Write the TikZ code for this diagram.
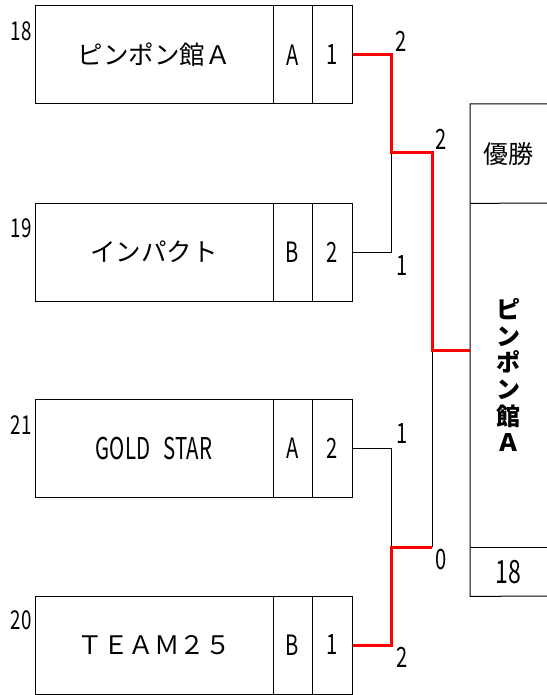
\documentclass[tikz,border=0pt]{standalone}
\usepackage{fontspec}
\setmainfont{Noto Sans CJK JP}
\newfontfamily\hw{Noto Sans CJK JP}[FakeStretch=0.72]
\newfontfamily\hwn{Noto Sans CJK JP}[FakeStretch=0.68]
\begin{document}
\begin{tikzpicture}[x=1pt,y=-1pt,
  cellbox/.style={draw=black,line width=1pt,inner sep=0pt,minimum height=98pt},
  namecell/.style={cellbox,minimum width=238pt,font=\fontsize{25.5}{25.5}\selectfont},
  grpcell/.style={cellbox,minimum width=39pt,font=\hw\fontsize{28}{28}\selectfont},
  scorecell/.style={cellbox,minimum width=40pt,font=\hw\fontsize{28}{28}\selectfont},
  seed/.style={font=\hw\fontsize{26}{26}\selectfont,inner sep=0pt},
  score/.style={font=\hw\fontsize{28}{28}\selectfont,inner sep=0pt},
  win/.style={draw=red,line width=3pt},
  lose/.style={draw=black,line width=1pt}]
\useasboundingbox (0,0) rectangle (546,695);
% row 1
\node[namecell] (n1) at (154,55) {ピンポン館Ａ};
\node[grpcell] (g1) at (292.5,55) {A};
\node[scorecell] (s1) at (332,55) {1};
\node[seed] (d1) at (21,31) {18};
% row 2
\node[namecell] (n2) at (154,252) {インパクト};
\node[grpcell] (g2) at (292.5,252) {B};
\node[scorecell] (s2) at (332,252) {2};
\node[seed] (d2) at (21,228) {19};
% row 3
\node[namecell] (n3) at (154,448) {\hwn\fontsize{30}{30}\selectfont GOLD\hspace{0.45em}STAR};
\node[grpcell] (g3) at (292.5,448) {A};
\node[scorecell] (s3) at (332,448) {2};
\node[seed] (d3) at (21,425) {21};
% row 4
\node[namecell] (n4) at (154,645) {ＴＥＡＭ２５};
\node[grpcell] (g4) at (292.5,645) {B};
\node[scorecell] (s4) at (332,645) {1};
\node[seed] (d4) at (21,620) {20};
% champion box
\node[draw=none,inner sep=0pt,minimum width=76pt,minimum height=99pt,anchor=north west,font=\fontsize{25}{25}\selectfont] (ch) at (470,104) {優勝};
\node[draw=none,inner sep=0pt,minimum width=76pt,minimum height=344pt,anchor=north west,font=\bfseries\fontsize{24}{26.6}\selectfont,align=center] (cw) at (470,203) {ピ\\ン\\ポ\\ン\\館\\Ａ};
\node[draw=none,inner sep=0pt,minimum width=76pt,minimum height=49pt,anchor=north west,font=\hw\fontsize{32}{32}\selectfont] (cs) at (470,547) {18};
\draw[lose] (548,104) -- (ch.north west) -- (cs.south west) -- (548,596);
\draw[lose] (ch.south west) -- (548,203);
\draw[lose] (cs.north west) -- (548,547);
% bracket joints
\coordinate (j1) at (391,55);
\coordinate (j2) at (391,252);
\coordinate (jm1) at (391,153);
\coordinate (k1) at (432,153);
\coordinate (j3) at (391,448);
\coordinate (j4) at (391,645);
\coordinate (jm2) at (391,547);
\coordinate (k2) at (432,547);
\coordinate (kf) at (432,350);
\draw[lose] (s2.east) -- (j2) -- (jm1);
\draw[lose] (s3.east) -- (j3) -- (jm2);
\draw[lose] (k2) -- (kf);
\draw[win,line join=miter] (s1.east) -- (j1) -- (jm1) -- (k1) -- (kf) -- (kf -| cw.west);
\draw[win,line join=miter] (s4.east) -- (j4) -- (jm2) -- (k2);
% scores
\node[score] (p1) at (401,41) {2};
\node[score] (p2) at (402,266) {1};
\node[score] (p3) at (441,139) {2};
\node[score] (p4) at (402,434) {1};
\node[score] (p5) at (402,657) {2};
\node[score] (p6) at (441,560) {0};
\end{tikzpicture}
\end{document}
